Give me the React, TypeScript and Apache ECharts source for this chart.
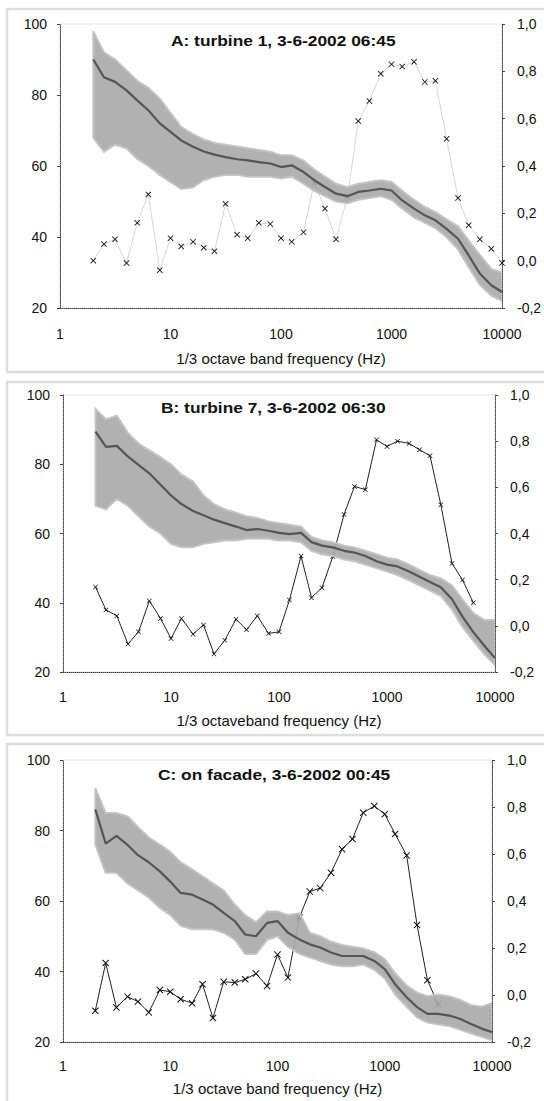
import React, { useEffect, useRef } from "react";
import * as echarts from "echarts";

// 1/3 octave band centre frequencies (Hz)
const FREQ = [2, 2.5, 3.15, 4, 5, 6.3, 8, 10, 12.5, 16, 20, 25, 31.5, 40, 50, 63, 80, 100, 125, 160, 200, 250, 315, 400, 500, 630, 800, 1000, 1250, 1600, 2000, 2500, 3150, 4000, 5000, 6300, 8000, 10000];

const X_TICKS = [1, 10, 100, 1000, 10000];

const TITLES = ["A: turbine 1, 3-6-2002 06:45", "B: turbine 7, 3-6-2002 06:30", "C: on facade, 3-6-2002 00:45"];
const X_NAMES = ["1/3 octave band frequency (Hz)", "1/3 octaveband frequency (Hz)", "1/3 octave band frequency (Hz)"];

// Panel A
const A_MEAN = [90, 85, 83.7, 81.3, 78.5, 75.7, 72, 69.6, 67.2, 65.4, 64.1, 63.2, 62.5, 61.9, 61.6, 61.1, 60.7, 59.7, 60.2, 58.3, 56, 54.1, 52.2, 51.5, 52.7, 53.1, 53.6, 53.1, 50.3, 48, 46.1, 44.7, 42.3, 39.5, 34.8, 29.7, 26.4, 24.5];
const A_UPPER = [98, 92, 90, 87, 84, 82, 79, 75, 71, 69, 67.5, 66.5, 66, 65.5, 65, 64.5, 64, 63, 63, 61.5, 59, 57, 55, 54, 55, 55.5, 56, 55.5, 53, 50.5, 48.5, 47, 45, 43, 39, 35, 31, 30];
const A_LOWER = [68, 64, 66, 65, 62, 60, 57.5, 55.5, 53.5, 54, 56, 57, 57.5, 57.5, 57, 57, 57, 56.5, 57, 55, 53, 51.5, 50, 49.5, 50.5, 51, 51.5, 50.5, 48, 45.5, 44, 42.5, 40, 36.5, 31.5, 26.5, 23.5, 22];
const A_CORR = [0.0, 0.07, 0.09, -0.01, 0.16, 0.28, -0.04, 0.095, 0.06, 0.08, 0.055, 0.04, 0.24, 0.11, 0.095, 0.16, 0.155, 0.095, 0.08, 0.12, 0.33, 0.22, 0.09, 0.27, 0.59, 0.675, 0.79, 0.83, 0.82, 0.84, 0.755, 0.76, 0.515, 0.265, 0.15, 0.09, 0.05, -0.01];

// Panel B
const B_MEAN = [89.4, 85, 85.3, 82.2, 79.8, 77.4, 74.1, 71, 68.5, 66.5, 65.3, 64, 63, 62, 61, 61.3, 60.8, 60.2, 59.8, 60.2, 57.5, 56.5, 56, 55, 54.5, 53.5, 52, 51, 50.5, 49, 47.5, 46, 44.5, 41, 36, 31.5, 27.5, 24];
const B_UPPER = [96, 93, 94, 89, 86, 84, 82, 80, 77, 75, 71, 68.5, 67, 66, 65, 64.5, 63.5, 63, 62.5, 62, 59, 58, 57.5, 56.5, 56, 55, 54, 53, 52.5, 51, 49.5, 48, 47, 45, 41, 37, 35, 35];
const B_LOWER = [68, 67, 70, 68, 65, 62, 60, 57, 56, 56, 57, 57.5, 58, 58, 58.5, 58.5, 58.5, 58, 58, 57.5, 55, 54, 53.5, 52.5, 52, 51, 50, 49, 48, 46.5, 45, 43.5, 42, 38, 33, 29, 25, 22];
const B_CORR = [0.168, 0.069, 0.043, -0.079, -0.026, 0.108, 0.032, -0.055, 0.032, -0.036, 0.004, -0.122, -0.062, 0.029, -0.017, 0.043, -0.033, -0.026, 0.112, 0.302, 0.122, 0.165, 0.30, 0.482, 0.604, 0.59, 0.806, 0.777, 0.80, 0.79, 0.763, 0.737, 0.525, 0.27, 0.199, 0.10];

// Panel C
const C_MEAN = [86, 76.3, 78.5, 75.9, 73, 71, 68.4, 65.5, 62.3, 61.8, 60.4, 59, 56.6, 54.3, 50.5, 50, 53.8, 54.3, 51, 49.1, 47.7, 46.8, 45.4, 44.4, 44.4, 44.4, 43, 40.7, 36.4, 32.7, 29.9, 28, 28, 27.5, 26.6, 25.2, 23.8, 22.8];
const C_UPPER = [92, 85, 85, 84, 81, 78, 76, 74, 71, 69, 67, 65, 63, 59, 56, 54, 57, 57, 56, 56.5, 51, 50, 48.5, 47.5, 47, 46.5, 45.5, 43.5, 39.5, 36, 34, 33, 33.5, 33, 32, 30.5, 30, 31];
const C_LOWER = [76, 68, 68, 65, 63, 61, 58, 56, 53, 52, 52, 52, 51, 49, 45, 45, 49, 50, 47, 45, 44, 43, 42, 41.5, 41.5, 42, 40.5, 38, 33.5, 30, 27, 25.5, 25, 24.5, 23.5, 22.5, 21.5, 20.5];
const C_CORR = [-0.067, 0.136, -0.053, -0.007, -0.028, -0.074, 0.021, 0.014, -0.018, -0.035, 0.046, -0.098, 0.056, 0.053, 0.067, 0.091, 0.038, 0.172, 0.074, 0.33, 0.44, 0.455, 0.52, 0.62, 0.664, 0.776, 0.804, 0.769, 0.685, 0.594, 0.298, 0.063, -0.04];

const FONT = "'Liberation Sans', Arial, sans-serif";
const CROSS = "path://M0,1 L1,0 L5,4 L9,0 L10,1 L6,5 L10,9 L9,10 L5,6 L1,10 L0,9 L4,5 Z";

const GRIDS = [
  { left: 60, top: 24, width: 442, height: 284, labelMargin: 19, nameGap: 43 },
  { left: 63, top: 395, width: 432, height: 277, labelMargin: 18, nameGap: 41 },
  { left: 63, top: 760, width: 429, height: 282, labelMargin: 17, nameGap: 39 },
];
const FRAMES = [
  { y: 9, h: 363 },
  { y: 382, h: 353 },
  { y: 744, h: 362 },
];
const TITLE_POS = [
  { x: 171, y: 41 },
  { x: 161, y: 408 },
  { x: 158, y: 775 },
];

const PANELS = [
  { mean: A_MEAN, upper: A_UPPER, lower: A_LOWER, corr: A_CORR, corrLine: "#d6d6d6", mark: 6 },
  { mean: B_MEAN, upper: B_UPPER, lower: B_LOWER, corr: B_CORR, corrLine: "#222", mark: 5 },
  { mean: C_MEAN, upper: C_UPPER, lower: C_LOWER, corr: C_CORR, corrLine: "#222", mark: 7 },
];

const axisLineStyle = { type: "dotted", color: "#444", width: 1 };

export default function App() {
  const ref = useRef<HTMLDivElement>(null);
  useEffect(() => {
    if (!ref.current) return;
    const chart = echarts.init(ref.current, undefined, { renderer: "svg" });

    const grid: any[] = [];
    const xAxis: any[] = [];
    const yAxis: any[] = [];
    const series: any[] = [];
    const graphic: any[] = [];

    FRAMES.forEach((f) => {
      graphic.push({
        type: "rect",
        shape: { x: 7, y: f.y, width: 545, height: f.h },
        style: { fill: "none", stroke: "#dddddd", lineWidth: 2.5 },
        silent: true,
        z: -1,
      });
    });

    PANELS.forEach((p, i) => {
      const g = GRIDS[i];
      grid.push({
        left: g.left,
        top: g.top,
        width: g.width,
        height: g.height,
        show: true,
        borderColor: "#e2e2e2",
        borderWidth: 1,
        backgroundColor: "transparent",
        containLabel: false,
        outerBoundsMode: "none",
      });
      xAxis.push({
        type: "log",
        gridIndex: i,
        logBase: 10,
        min: 1,
        max: 10000,
        name: X_NAMES[i],
        nameLocation: "middle",
        nameGap: g.nameGap,
        nameTextStyle: { fontFamily: FONT, fontSize: 15, color: "#111" },
        axisLine: { show: true, onZero: false, lineStyle: axisLineStyle },
        axisTick: { show: false },
        minorTick: { show: false },
        splitLine: { show: false },
        axisLabel: {
          margin: g.labelMargin,
          fontFamily: FONT,
          fontSize: 14,
          color: "#111",
          formatter: (v: number) => String(Math.round(v)),
          customValues: X_TICKS,
        },
      });
      yAxis.push({
        type: "value",
        gridIndex: i,
        position: "left",
        min: 20,
        max: 100,
        interval: 20,
        axisLine: { show: true, onZero: false, lineStyle: axisLineStyle },
        axisTick: { show: true, length: 3, lineStyle: { color: "#444" } },
        splitLine: { show: false },
        axisLabel: { margin: 13, fontFamily: FONT, fontSize: 14, color: "#111" },
      });
      yAxis.push({
        type: "value",
        gridIndex: i,
        position: "right",
        min: -0.2,
        max: 1.0,
        interval: 0.2,
        axisLine: { show: true, onZero: false, lineStyle: axisLineStyle },
        axisTick: { show: true, length: 3, lineStyle: { color: "#444" } },
        splitLine: { show: false },
        axisLabel: {
          margin: 15,
          fontFamily: FONT,
          fontSize: 14,
          color: "#111",
          formatter: (v: number) => {
            const r = Math.abs(v) < 1e-9 ? 0 : v;
            return r.toFixed(1).replace(".", ",");
          },
        },
      });

      const leftY = i * 2;
      const rightY = i * 2 + 1;

      // correlation (right axis)
      series.push({
        type: "line",
        xAxisIndex: i,
        yAxisIndex: rightY,
        z: 2,
        silent: true,
        data: p.corr.map((v, k) => [FREQ[k], v]),
        symbol: CROSS,
        symbolSize: p.mark,
        showSymbol: true,
        itemStyle: { color: "#111" },
        lineStyle: { color: p.corrLine, width: 1 },
      });

      // band of individual spectra (upper/lower envelope)
      const upper = p.upper;
      const lower = p.lower;
      series.push({
        type: "custom",
        xAxisIndex: i,
        yAxisIndex: leftY,
        z: 3,
        silent: true,
        clip: true,
        data: [[FREQ[0], upper[0]]],
        encode: { x: 0, y: 1 },
        renderItem: (params: any, api: any) => {
          if (params.dataIndex !== 0) return null;
          const top = FREQ.map((f, k) => api.coord([f, upper[k]]));
          const bot = FREQ.map((f, k) => api.coord([f, lower[k]])).reverse();
          return {
            type: "polygon",
            shape: { points: top.concat(bot) },
            style: { fill: "rgba(168,168,168,0.9)", stroke: "rgba(195,195,195,0.95)", lineWidth: 2 },
          };
        },
      });

      // mean spectrum (left axis)
      series.push({
        type: "line",
        xAxisIndex: i,
        yAxisIndex: leftY,
        z: 4,
        silent: true,
        data: p.mean.map((v, k) => [FREQ[k], v]),
        symbol: "none",
        lineStyle: { color: "#555555", width: 2.2 },
      });

      graphic.push({
        type: "text",
        x: TITLE_POS[i].x,
        y: TITLE_POS[i].y,
        scaleX: 1.24,
        silent: true,
        style: {
          text: TITLES[i],
          font: `bold 14px ${FONT}`,
          fill: "#111",
          textAlign: "left",
          textVerticalAlign: "middle",
        },
        z: 10,
      });
    });

    chart.setOption({
      animation: false,
      backgroundColor: "#ffffff",
      grid,
      xAxis,
      yAxis,
      series,
      graphic,
    });
    return () => chart.dispose();
  }, []);

  return (
    <div
      ref={ref}
      style={{ position: "absolute", left: 0, top: 0, width: 544, height: 1101 }}
    />
  );
}
